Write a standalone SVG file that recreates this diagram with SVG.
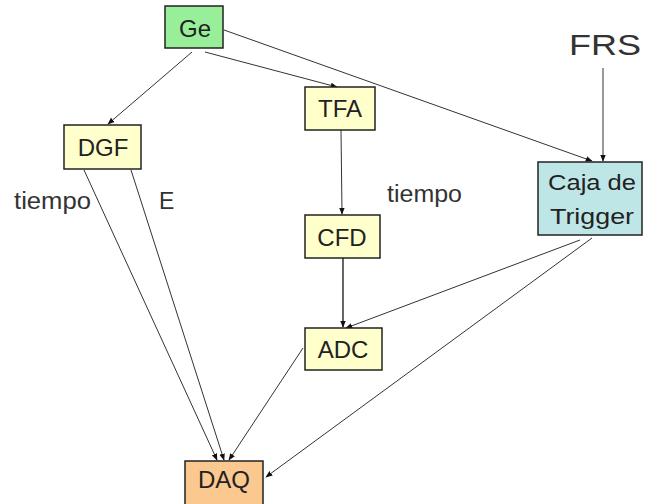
<svg xmlns="http://www.w3.org/2000/svg" width="645" height="504" viewBox="0 0 645 504">
<defs>
<style>
.box{stroke:#222;stroke-width:1.5}
.t{font-family:"Liberation Sans",Arial,sans-serif;font-size:24px;fill:#222;text-anchor:middle}
.l{font-family:"Liberation Sans",Arial,sans-serif;font-size:23px;fill:#333}
.c{stroke:#333;stroke-width:1;fill:none;marker-end:url(#ah)}
</style>
<marker id="ah" viewBox="0 0 10 10" refX="9" refY="5" markerWidth="7" markerHeight="7" orient="auto" markerUnits="userSpaceOnUse">
<path d="M0,1 L10,5 L0,9 z" fill="#111"/>
</marker>
</defs>
<rect width="645" height="504" fill="#fff"/>
<g id="connectors">
<line class="c" x1="192" y1="52" x2="108" y2="124"/>
<line class="c" x1="205" y1="52" x2="337" y2="87"/>
<line class="c" x1="224" y1="30" x2="592" y2="161"/>
<line class="c" x1="603" y1="68" x2="603" y2="161"/>
<line class="c" x1="341" y1="130" x2="342" y2="214"/>
<line class="c" x1="343" y1="258" x2="343" y2="327" style="stroke-width:1.5"/>
<line class="c" x1="580" y1="240" x2="346" y2="328"/>
<line class="c" x1="592" y1="238" x2="266" y2="477"/>
<line class="c" x1="84" y1="170" x2="217" y2="460"/>
<line class="c" x1="131" y1="170" x2="224" y2="460"/>
<line class="c" x1="303" y1="348" x2="229" y2="460"/>
</g>
<g id="Ge"><rect class="box" x="165" y="6" width="58" height="42" fill="#99ee99"/><text class="t" x="195" y="37">Ge</text></g>
<g id="DGF"><rect class="box" x="64" y="125" width="77" height="44" fill="#ffffcc"/><text class="t" x="103" y="156">DGF</text></g>
<g id="TFA"><rect class="box" x="305" y="87" width="70" height="43" fill="#ffffcc"/><text class="t" x="340" y="117">TFA</text></g>
<g id="CFD"><rect class="box" x="305" y="215" width="75" height="43" fill="#ffffcc"/><text class="t" x="342" y="246">CFD</text></g>
<g id="ADC"><rect class="box" x="305" y="328" width="77" height="42" fill="#ffffcc"/><text class="t" x="343" y="358">ADC</text></g>
<g id="Caja"><rect class="box" x="538" y="162" width="104" height="73" fill="#bfe6e6"/><text class="t" x="592" y="190" textLength="88" lengthAdjust="spacingAndGlyphs" style="font-size:22px">Caja de</text><text class="t" x="592" y="224" textLength="84" lengthAdjust="spacingAndGlyphs" style="font-size:22px">Trigger</text></g>
<g id="DAQ"><rect class="box" x="185" y="461" width="78" height="45" fill="#fbc890"/><text class="t" x="224" y="488">DAQ</text></g>
<g id="FRS"><text class="l" x="569" y="55" textLength="72" lengthAdjust="spacingAndGlyphs" style="font-size:30px">FRS</text></g>
<g id="labels">
<text class="l" x="14" y="209" textLength="77" lengthAdjust="spacingAndGlyphs">tiempo</text>
<text class="l" x="159" y="209">E</text>
<text class="l" x="387" y="202" textLength="75" lengthAdjust="spacingAndGlyphs">tiempo</text>
</g>
</svg>
